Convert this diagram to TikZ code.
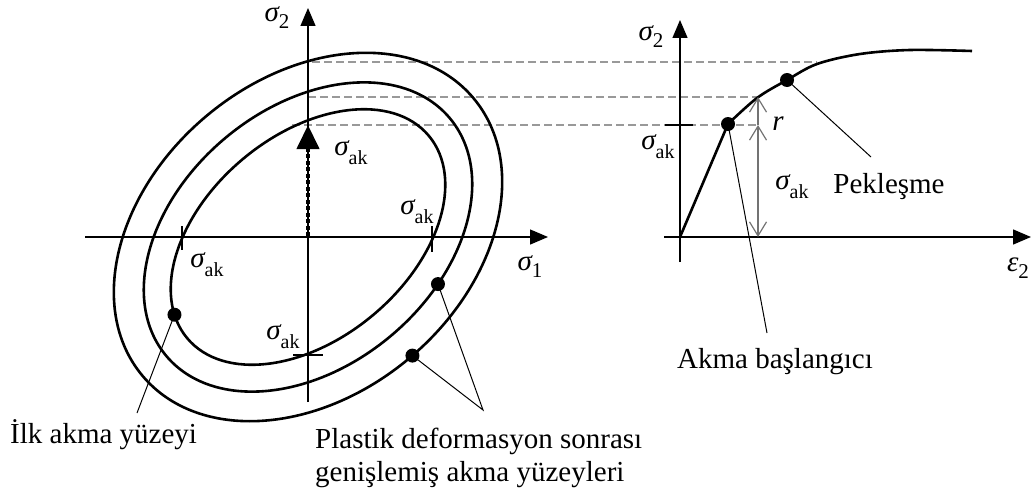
\documentclass[tikz,border=0pt]{standalone}
\usepackage{fontspec}
\setmainfont{Liberation Serif}
\usetikzlibrary{arrows.meta}
\newcommand\Sak{{\itshape σ}\raisebox{-9pt}{\fontsize{20}{20}\selectfont ak}}
\newcommand\Stwo{{\itshape σ}\raisebox{-7pt}{\fontsize{21}{21}\selectfont 2}}
\newcommand\Sone{{\itshape σ}\raisebox{-7pt}{\fontsize{21}{21}\selectfont 1}}
\newcommand\Etwo{{\itshape ε}\raisebox{-7pt}{\fontsize{21}{21}\selectfont 2}}
\tikzset{
  axis/.style={line width=1.3pt, -{Triangle[length=18pt,width=15pt]}},
  surf/.style={line width=2.6pt},
  guide/.style={black!40, line width=1.5pt, dash pattern=on 8pt off 4pt},
  dot/.style={circle, fill=black, inner sep=0pt, minimum size=14pt},
  leader/.style={line width=1pt},
  tick/.style={line width=1.2pt},
  garrow/.style={black!55, line width=1.2pt},
  uparrow/.style={garrow, -{Straight Barb[length=14pt,width=17pt]}},
  bothway/.style={garrow, {Straight Barb[length=14pt,width=17pt]}-{Straight Barb[length=14pt,width=17pt]}},
  lbl/.style={inner sep=0pt}
}
\begin{document}
\begin{tikzpicture}[x=1pt,y=-1pt,font=\fontsize{29}{33}\selectfont]
\path[use as bounding box] (0,0) rectangle (1032,495);
% guide lines
\draw[guide] (312,62) -- (817,62);
\draw[guide] (308,97) -- (757,97);
\draw[guide] (292,125) -- (758,125);
% left axes
\coordinate (O) at (308,237);
\coordinate (Ltop) at (308,8);
\coordinate (Lbot) at (308,402);
\coordinate (Lleft) at (85,237);
\coordinate (Lright) at (548,237);
\draw[axis] (Lbot) -- (Ltop);
\draw[axis] (Lleft) -- (Lright);
% yield surfaces
\begin{scope}[shift={(O)}, rotate=40]
  \draw[surf] (0,0) ellipse [x radius=157.6pt, y radius=101.6pt];
  \draw[surf] (0,0) ellipse [x radius=185pt, y radius=129pt];
  \draw[surf] (0,0) ellipse [x radius=216pt, y radius=158pt];
  \coordinate (d1) at (165:157.6pt and 101.6pt);
  \coordinate (d2) at (-68:185pt and 129pt);
  \coordinate (d3) at (-89:216pt and 158pt);
\end{scope}
% ticks
\draw[tick] (182,226) -- (182,250);
\draw[tick] (432,226) -- (432,252);
\draw[tick] (293,355) -- (323,355);
% dotted load arrow
\coordinate (la) at (308,236);
\coordinate (lb) at (308,125);
\draw[line width=4.2pt, dash pattern=on 4pt off 2.5pt, -{Triangle[length=24pt,width=22pt]}] (la) -- (lb);
% dots and leaders
\node[dot] (p1) at (d1) {};
\node[dot] (p2) at (d2) {};
\node[dot] (p3) at (d3) {};
\coordinate (t1) at (137,413);
\coordinate (t2) at (483,410);
\draw[leader] (p1.center) -- (t1);
\draw[leader] (p2.center) -- (t2) -- (p3.center);
% left labels
\node[lbl] (ls2) at (277,18) {\Stwo};
\node[lbl] (ls1) at (530,267) {\Sone};
\node[lbl] (lk1) at (351,153) {\Sak};
\node[lbl] (lk2) at (417,212) {\Sak};
\node[lbl] (lk3) at (207,265) {\Sak};
\node[lbl] (lk4) at (283,337) {\Sak};
\node[lbl, anchor=base west] (ilk) at (10,443) {İlk akma yüzeyi};
\node[lbl, anchor=west, align=left] (plas) at (315,458) {Plastik deformasyon sonrası\\genişlemiş akma yüzeyleri};
% right plot
\coordinate (R) at (680,237);
\coordinate (Rtop) at (680,20);
\coordinate (Rbot) at (680,262);
\coordinate (Rleft) at (664,237);
\coordinate (Rright) at (1031,237);
\draw[axis] (Rbot) -- (Rtop);
\draw[axis] (Rleft) -- (Rright);
\draw[tick, line width=1.4pt] (665,125) -- (693,125);
\coordinate (q1) at (728,124);
\coordinate (q2) at (787,80);
\draw[surf, line join=round] (R) -- (q1);
\draw[surf] plot[smooth, tension=0.55] coordinates {(728,124) (757,98) (787,80) (817,64) (860,54) (910,50) (972,51)};
% r and sigma_ak arrows
\coordinate (a0) at (758,237);
\coordinate (a1) at (758,125);
\coordinate (a2) at (758,97);
\draw[uparrow] (a1) -- (a2);
\draw[bothway] (a1) -- (a0);
\node[dot] (pa) at (q1) {};
\node[dot] (pb) at (q2) {};
\coordinate (ta) at (767,333);
\coordinate (tb) at (871,157);
\draw[leader] (pa.center) -- (ta);
\draw[leader] (pb.center) -- (tb);
% right labels
\node[lbl] (rs2) at (651,37) {\Stwo};
\node[lbl] (rsk) at (658,147) {\Sak};
\node[lbl] (rr) at (778,124) {\itshape r};
\node[lbl] (rsm) at (792,187) {\Sak};
\node[lbl] (pek) at (889,187) {Pekleşme};
\node[lbl] (re2) at (1018,268) {\Etwo};
\node[lbl] (akma) at (775,362) {Akma başlangıcı};
\end{tikzpicture}
\end{document}
